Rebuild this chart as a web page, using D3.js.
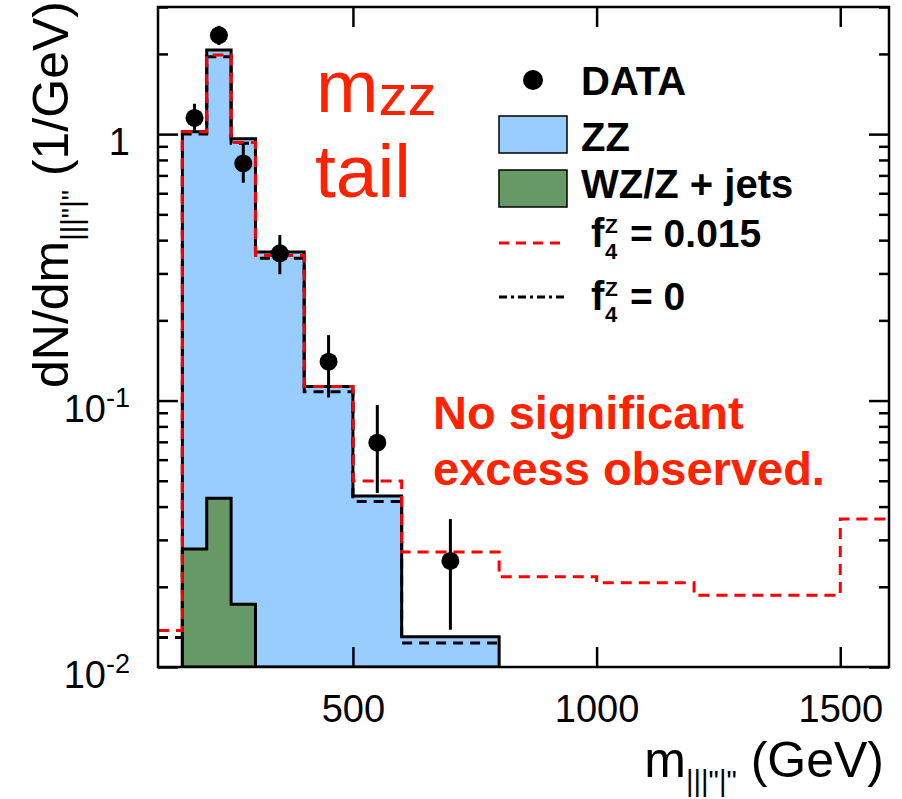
<!DOCTYPE html>
<html>
<head>
<meta charset="utf-8">
<script src="https://cdn.jsdelivr.net/npm/d3@7"></script>
<style>
body{margin:0;background:#fff;}
text{font-family:"Liberation Sans",Arial,Helvetica,sans-serif;}
</style>
</head>
<body>
<div class="plot"></div>
<script>
// bin edges in GeV, heights in 1/GeV
var zzEdges = [150,200,250,300,400,500,600,800];
var zzValues = [1.02,2.07,0.96,0.361,0.113,0.0438,0.0130]; // ZZ stacked on top of WZ/Z+jets
var wzEdges = [150,200,250,300];
var wzValues = [0.0277,0.0430,0.0172];
var f4Edges = [100,150,200,250,300,400,500,600,800,1000,1200,1500,1600];
var f4Values = [0.0137,1.02,1.98,0.93,0.35,0.113,0.0499,0.0270,0.0218,0.0207,0.0186,0.0359];
var smEdges = [100,150,200,250,300,400,500,600,800];
var smValues = [0.0129,1.0,1.95,0.925,0.342,0.108,0.0418,0.0123];

var dataMass = [175,225,275,350,450,550,700];
var dataValue = [1.15,2.35,0.776,0.357,0.140,0.0695,0.0250];
var dataHigh = [1.30,2.55,0.923,0.418,0.176,0.0962,0.0359];
var dataLow = [1.03,2.16,0.657,0.298,0.1027,0.045,0.0138];

var xTicks = [500,1000,1500];
var yMajor = [0.01,0.1,1];
var yLabels = [['10','-2'],['10','-1'],['1','']];

var m = {t:7,r:13,b:132,l:158},
    w = 902 - m.l - m.r,
    h = 799 - m.t - m.b;

var svg = d3.select('.plot').append('svg')
    .attr('width',902)
    .attr('height',799);

var plot = svg.append('g')
    .attr('transform','translate('+m.l+','+m.t+')');

var x = d3.scaleLinear().domain([100,1600]).range([0,w]);
var y = d3.scaleLog().domain([0.01,3]).range([h,0]);

plot.append('clipPath').attr('id','clip')
    .append('rect').attr('width',w).attr('height',h);

// turn edges + contents into step points
function steps(edges, values){
    var pts = values.map(function(v,i){return [edges[i],v]});
    pts.push([edges[edges.length-1], values[values.length-1]]);
    return pts;
}

var area = d3.area().curve(d3.curveStepAfter)
    .x(function(d){return x(d[0])})
    .y0(h)
    .y1(function(d){return y(d[1])});

var line = d3.line().curve(d3.curveStepAfter)
    .x(function(d){return x(d[0])})
    .y(function(d){return y(d[1])});

var g = plot.append('g').attr('clip-path','url(#clip)');

g.append('path')
    .attr('d',area(steps(zzEdges,zzValues)))
    .style('fill','#99ccff')
    .style('stroke','#000')
    .style('stroke-width',3);

g.append('path')
    .attr('d',area(steps(wzEdges,wzValues)))
    .style('fill','#669966')
    .style('stroke','#000')
    .style('stroke-width',3);

g.append('path')
    .attr('d',line(steps(smEdges,smValues)))
    .style('fill','none')
    .style('stroke','#000')
    .style('stroke-width',3)
    .style('stroke-dasharray','10,7');

g.append('path')
    .attr('d',line(steps(f4Edges,f4Values)))
    .style('fill','none')
    .style('stroke','#ff0000')
    .style('stroke-width',3)
    .style('stroke-dasharray','11,7');

// data points with error bars
var pts = g.selectAll('.pt')
    .data(dataMass)
    .enter()
    .append('g')
    .attr('class','pt');

pts.append('line')
    .attr('x1',function(d){return x(d)})
    .attr('x2',function(d){return x(d)})
    .attr('y1',function(d,i){return y(dataHigh[i])})
    .attr('y2',function(d,i){return y(dataLow[i])})
    .style('stroke','#000')
    .style('stroke-width',3);

pts.append('circle')
    .attr('cx',function(d){return x(d)})
    .attr('cy',function(d,i){return y(dataValue[i])})
    .attr('r',9)
    .style('fill','#000');

// axes: ticks drawn on all four sides, pointing in
var yMinor = y.ticks().filter(function(d){return yMajor.indexOf(d) < 0});

function styleAxis(sel){
    sel.select('.domain').remove();
    sel.selectAll('line').style('stroke','#000').style('stroke-width',2.5);
}

plot.append('g')
    .attr('transform','translate(0,'+h+')')
    .call(d3.axisBottom(x).tickValues(xTicks).tickSize(-20).tickPadding(28).tickFormat(d3.format('d')))
    .attr('font-size',38)
    .attr('font-family','"Liberation Sans",Arial,Helvetica,sans-serif')
    .call(styleAxis);

plot.append('g')
    .call(d3.axisTop(x).tickValues(xTicks).tickSize(-20).tickFormat(''))
    .call(styleAxis);

plot.append('g')
    .call(d3.axisLeft(y).tickValues(yMajor).tickSize(-20).tickFormat(''))
    .call(styleAxis);
plot.append('g')
    .call(d3.axisLeft(y).tickValues(yMinor).tickSize(-10).tickFormat(''))
    .call(styleAxis);
plot.append('g')
    .attr('transform','translate('+w+',0)')
    .call(d3.axisRight(y).tickValues(yMajor).tickSize(-20).tickFormat(''))
    .call(styleAxis);
plot.append('g')
    .attr('transform','translate('+w+',0)')
    .call(d3.axisRight(y).tickValues(yMinor).tickSize(-10).tickFormat(''))
    .call(styleAxis);

var ylab = plot.selectAll('.ylab')
    .data(yMajor)
    .enter()
    .append('text')
    .attr('class','ylab')
    .attr('x',-28)
    .attr('y',function(d){return y(d)+21})
    .attr('text-anchor','end')
    .style('font-size','38px');
ylab.append('tspan').text(function(d,i){return yLabels[i][0]});
ylab.append('tspan')
    .attr('dy',-15)
    .style('font-size','27px')
    .text(function(d,i){return yLabels[i][1]});

plot.append('rect')
    .attr('width',w)
    .attr('height',h)
    .style('fill','none')
    .style('stroke','#000')
    .style('stroke-width',2.5);

// axis titles
var xt = svg.append('text')
    .attr('x',884).attr('y',777)
    .attr('text-anchor','end')
    .style('font-size','50px');
xt.append('tspan').text('m');
xt.append('tspan').attr('dy',14).style('font-size','29px').text('|||"|"');
xt.append('tspan').attr('dy',-14).text(' (GeV)');

var yt = svg.append('text')
    .attr('transform','translate(68,388) rotate(-90)')
    .style('font-size','50px');
yt.append('tspan').text('dN/dm');
yt.append('tspan').attr('dy',14).style('font-size','29px').text('|||"|"');
yt.append('tspan').attr('dy',-14).text(' (1/GeV)');

// legend
svg.append('circle').attr('cx',533).attr('cy',80).attr('r',10).style('fill','#000');
svg.append('rect').attr('x',499).attr('y',116).attr('width',68).attr('height',37)
    .style('fill','#99ccff').style('stroke','#000').style('stroke-width',1.5);
svg.append('rect').attr('x',499).attr('y',170).attr('width',68).attr('height',37)
    .style('fill','#669966').style('stroke','#000').style('stroke-width',1.5);
svg.append('line').attr('x1',499).attr('x2',564).attr('y1',243).attr('y2',243)
    .style('stroke','#ff0000').style('stroke-width',3).style('stroke-dasharray','10,7');
svg.append('line').attr('x1',499).attr('x2',567).attr('y1',297).attr('y2',297)
    .style('stroke','#000').style('stroke-width',3).style('stroke-dasharray','8,4,3,4');

var legText = [['DATA',95],['ZZ',151],['WZ/Z + jets',198]];
svg.selectAll('.leg')
    .data(legText)
    .enter()
    .append('text')
    .attr('class','leg')
    .attr('x',581)
    .attr('y',function(d){return d[1]})
    .style('font-size','40px')
    .style('font-weight','bold')
    .text(function(d){return d[0]});

var fLeg = [['= 0.015',247],['= 0',310]];
fLeg.forEach(function(d){
    var t = svg.append('text').style('font-weight','bold');
    t.append('tspan').attr('x',591).attr('y',d[1]).style('font-size','40px').text('f');
    t.append('tspan').attr('x',605).attr('y',d[1]-14).style('font-size','21px').text('Z');
    t.append('tspan').attr('x',605).attr('y',d[1]+12).style('font-size','22px').text('4');
    t.append('tspan').attr('x',630).attr('y',d[1]).style('font-size','39px').text(d[0]);
});

// annotations
var mz = svg.append('text').attr('x',316).attr('y',112).style('fill','#ff2200').style('font-size','75px');
mz.append('tspan').text('m');
mz.append('tspan').attr('dy',3).style('font-size','58px').text('zz');
svg.append('text').attr('x',315).attr('y',197).style('fill','#ff2200').style('font-size','75px').text('tail');

svg.append('text').attr('x',433).attr('y',429).style('fill','#ff2200')
    .style('font-size','47px').style('font-weight','bold').text('No significant');
svg.append('text').attr('x',433).attr('y',485).style('fill','#ff2200')
    .style('font-size','47px').style('font-weight','bold').text('excess observed.');
</script>
</body>
</html>
